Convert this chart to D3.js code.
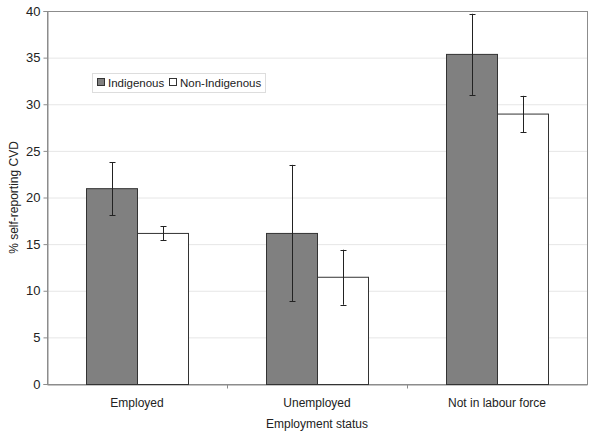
<!DOCTYPE html>
<html>
<head>
<meta charset="utf-8">
<script src="https://cdn.jsdelivr.net/npm/d3@7"></script>
<style>
  body { margin: 0; background: #fff; }
  text { font-family: "Liberation Sans", Arial, sans-serif; fill: #222; }
</style>
</head>
<body>
<div id="chart"></div>
<script>
const categories = ["Employed", "Unemployed", "Not in labour force"];
const seriesNames = ["Indigenous", "Non-Indigenous"];
const indigenous = [21.0, 16.2, 35.4];
const indigenousLow = [18.1, 8.9, 31.0];
const indigenousHigh = [23.8, 23.5, 39.7];
const nonIndigenous = [16.2, 11.5, 29.0];
const nonIndigenousLow = [15.4, 8.5, 27.0];
const nonIndigenousHigh = [16.9, 14.4, 30.9];
const yTicks = [0, 5, 10, 15, 20, 25, 30, 35, 40];

const width = 600, height = 432;
const margin = {top: 11, right: 13, bottom: 48, left: 47};
const colors = ["#808080", "#ffffff"];

const svg = d3.select("#chart").append("svg")
  .attr("width", width)
  .attr("height", height);

const x0 = d3.scaleBand()
  .domain(categories)
  .range([margin.left, width - margin.right])
  .paddingInner(0)
  .paddingOuter(0);

const x1 = d3.scaleBand()
  .domain(seriesNames)
  .range([39, x0.bandwidth() - 39]);

const y = d3.scaleLinear()
  .domain([0, 40])
  .range([height - margin.bottom, margin.top]);

// gridlines
svg.append("g")
  .selectAll("line")
  .data(yTicks.filter(d => d > 0 && d < 40))
  .join("line")
  .attr("x1", margin.left)
  .attr("x2", width - margin.right)
  .attr("y1", d => y(d) + 0.5)
  .attr("y2", d => y(d) + 0.5)
  .attr("stroke", "#e6e6e6");

// plot frame
svg.append("rect")
  .attr("x", margin.left + 0.5)
  .attr("y", margin.top + 0.5)
  .attr("width", width - margin.left - margin.right)
  .attr("height", height - margin.top - margin.bottom)
  .attr("fill", "none")
  .attr("stroke", "#8c8c8c");

// y axis
const yAxis = svg.append("g")
  .attr("transform", `translate(${margin.left + 0.5},0)`)
  .call(d3.axisLeft(y).tickValues(yTicks).tickSize(4).tickPadding(3));
yAxis.select(".domain").attr("stroke", "#8c8c8c");
yAxis.selectAll(".tick line").attr("stroke", "#8c8c8c");
yAxis.selectAll(".tick text").style("font-size", "13px").attr("fill", "#222");

// x axis
const xAxis = svg.append("g")
  .attr("transform", `translate(0,${height - margin.bottom + 0.5})`)
  .call(d3.axisBottom(x0).tickSize(0).tickPadding(14));
xAxis.select(".domain").attr("stroke", "#8c8c8c");
xAxis.selectAll(".tick text").style("font-size", "12px").attr("fill", "#222");
xAxis.selectAll(".sep")
  .data(categories.slice(1))
  .join("line")
  .attr("class", "sep")
  .attr("x1", d => x0(d) + 0.5)
  .attr("x2", d => x0(d) + 0.5)
  .attr("y1", 0)
  .attr("y2", 4)
  .attr("stroke", "#8c8c8c");

const rows = categories.map((c, i) => ({
  category: c,
  values: [
    {series: seriesNames[0], value: indigenous[i], low: indigenousLow[i], high: indigenousHigh[i], color: colors[0]},
    {series: seriesNames[1], value: nonIndigenous[i], low: nonIndigenousLow[i], high: nonIndigenousHigh[i], color: colors[1]}
  ]
}));

const groups = svg.append("g")
  .selectAll("g")
  .data(rows)
  .join("g")
  .attr("transform", d => `translate(${x0(d.category)},0)`);

groups.selectAll("rect")
  .data(d => d.values)
  .join("rect")
  .attr("x", d => x1(d.series) + 0.5)
  .attr("y", d => y(d.value) + 0.5)
  .attr("width", x1.bandwidth())
  .attr("height", d => y(0) - y(d.value))
  .attr("fill", d => d.color)
  .attr("stroke", "#333");

// error bars
const err = groups.selectAll("g.err")
  .data(d => d.values)
  .join("g")
  .attr("class", "err")
  .attr("stroke", "#222");
const cx = d => Math.round(x1(d.series) + x1.bandwidth() / 2) + 0.5;
err.append("line")
  .attr("x1", cx).attr("x2", cx)
  .attr("y1", d => y(d.high)).attr("y2", d => y(d.low));
err.append("line")
  .attr("x1", d => cx(d) - 3).attr("x2", d => cx(d) + 3)
  .attr("y1", d => Math.round(y(d.high)) + 0.5).attr("y2", d => Math.round(y(d.high)) + 0.5);
err.append("line")
  .attr("x1", d => cx(d) - 3).attr("x2", d => cx(d) + 3)
  .attr("y1", d => Math.round(y(d.low)) + 0.5).attr("y2", d => Math.round(y(d.low)) + 0.5);

// axis titles
svg.append("text")
  .attr("x", (margin.left + width - margin.right) / 2)
  .attr("y", 428)
  .attr("text-anchor", "middle")
  .style("font-size", "12px")
  .text("Employment status");

svg.append("text")
  .attr("transform", `translate(18,${(margin.top + height - margin.bottom) / 2}) rotate(-90)`)
  .attr("text-anchor", "middle")
  .style("font-size", "12px")
  .text("% self-reporting CVD");

// legend
const legend = svg.append("g").attr("transform", "translate(92,73)");
legend.append("rect")
  .attr("x", 0.5).attr("y", 0.5)
  .attr("width", 173).attr("height", 19)
  .attr("fill", "#fff")
  .attr("stroke", "#dddddd");
const items = [{name: seriesNames[0], color: colors[0], x: 5}, {name: seriesNames[1], color: colors[1], x: 77}];
const li = legend.selectAll("g.item")
  .data(items)
  .join("g")
  .attr("class", "item")
  .attr("transform", d => `translate(${d.x},0)`);
li.append("rect")
  .attr("x", 0.5).attr("y", 5.5)
  .attr("width", 7).attr("height", 7)
  .attr("fill", d => d.color)
  .attr("stroke", "#333");
li.append("text")
  .attr("x", 11).attr("y", 13.5)
  .style("font-size", "11.5px")
  .text(d => d.name);
</script>
</body>
</html>
